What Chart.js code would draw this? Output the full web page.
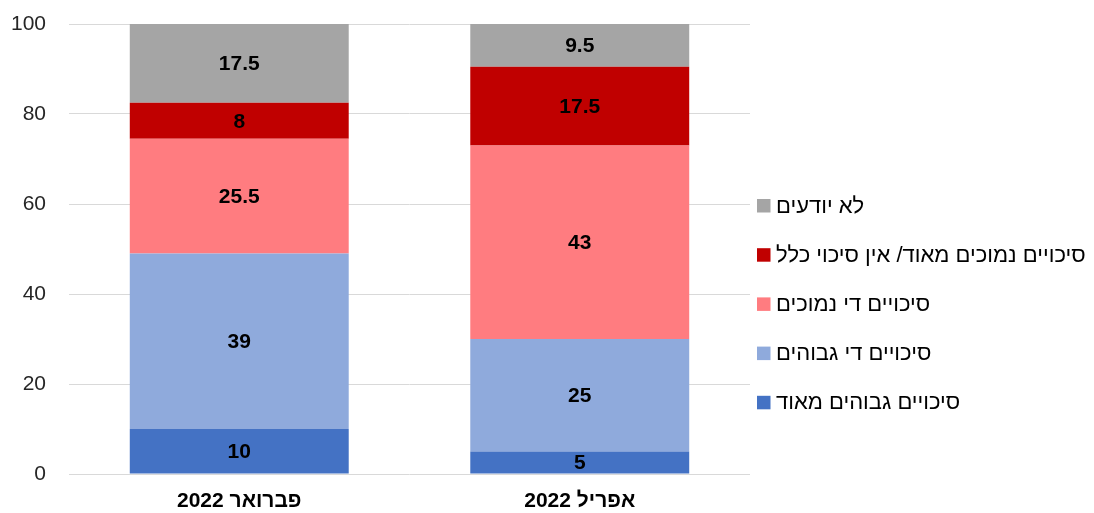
<!DOCTYPE html>
<html>
<head>
<meta charset="utf-8">
<script src="https://cdn.jsdelivr.net/npm/chart.js@4/dist/chart.umd.min.js"></script>
<style>
  html, body { margin: 0; padding: 0; background: #fff; }
  #wrap { width: 1094px; height: 513px; }
</style>
</head>
<body>
<div id="wrap"><canvas id="chart" width="1094" height="513"></canvas></div>
<script>
// categories and series (bottom of stack first)
const categories = ['פברואר 2022', 'אפריל 2022'];
const seriesNames = [
    'סיכויים גבוהים מאוד',
    'סיכויים די גבוהים',
    'סיכויים די נמוכים',
    'סיכויים נמוכים מאוד/ אין סיכוי כלל',
    'לא יודעים'
];
const veryHigh = [10, 5];
const fairlyHigh = [39, 25];
const fairlyLow = [25.5, 43];
const veryLow = [8, 17.5];
const dontKnow = [17.5, 9.5];
const seriesColors = ['#4472C4', '#8FAADC', '#FF7C80', '#C00000', '#A5A5A5'];
const yTicks = [0, 20, 40, 60, 80, 100];

const FONT = '"Liberation Sans", Arial, sans-serif';
const seriesValues = [veryHigh, fairlyHigh, fairlyLow, veryLow, dontKnow];

// value labels in the middle of each segment
const barLabels = {
    id: 'barLabels',
    afterDatasetsDraw(chart) {
        const ctx = chart.ctx;
        ctx.save();
        ctx.font = 'bold 21px ' + FONT;
        ctx.fillStyle = '#000';
        ctx.textAlign = 'center';
        ctx.textBaseline = 'middle';
        chart.data.datasets.forEach((ds, i) => {
            chart.getDatasetMeta(i).data.forEach((bar, j) => {
                const y = (bar.y + bar.base) / 2;
                ctx.fillText(String(ds.data[j]), bar.x, y + 1);
            });
        });
        ctx.restore();
    }
};

// legend on the right, top item = last series
const sideLegend = {
    id: 'sideLegend',
    afterDraw(chart) {
        const ctx = chart.ctx;
        ctx.save();
        ctx.font = '22px ' + FONT;
        ctx.textBaseline = 'middle';
        ctx.textAlign = 'left';
        const n = chart.data.datasets.length;
        for (let k = 0; k < n; k++) {
            const ds = chart.data.datasets[n - 1 - k];
            const cy = 205.5 + k * 49.2;
            ctx.fillStyle = ds.backgroundColor;
            ctx.fillRect(757, cy - 6.5, 13.5, 13.5);
            ctx.fillStyle = '#000';
            ctx.fillText(ds.label, 776, cy + 1);
        }
        ctx.restore();
    }
};

new Chart(document.getElementById('chart'), {
    type: 'bar',
    data: {
        labels: categories,
        datasets: seriesNames.map((name, i) => ({
            label: name,
            data: seriesValues[i],
            backgroundColor: seriesColors[i],
            borderWidth: 0,
            categoryPercentage: 1,
            barPercentage: 0.643
        }))
    },
    options: {
        responsive: false,
        animation: false,
        layout: { padding: { left: 0, right: 344, top: 24, bottom: 0 } },
        plugins: {
            legend: { display: false },
            tooltip: { enabled: false }
        },
        scales: {
            x: {
                stacked: true,
                grid: { display: false, drawTicks: false },
                border: { display: false },
                ticks: {
                    color: '#000',
                    padding: 15,
                    font: { family: FONT, size: 21, weight: 'bold' }
                },
                afterFit(scale) { scale.height = 39; }
            },
            y: {
                stacked: true,
                min: 0,
                max: 100,
                afterBuildTicks(scale) { scale.ticks = yTicks.map(v => ({ value: v })); },
                grid: { color: '#D9D9D9', lineWidth: 1, drawTicks: false },
                border: { display: false },
                ticks: {
                    color: '#262626',
                    padding: 23,
                    font: { family: FONT, size: 21 }
                },
                afterFit(scale) {
                    scale.width = 69;
                    scale.paddingTop = 0;
                    scale.paddingBottom = 0;
                }
            }
        }
    },
    plugins: [barLabels, sideLegend]
});
</script>
</body>
</html>
